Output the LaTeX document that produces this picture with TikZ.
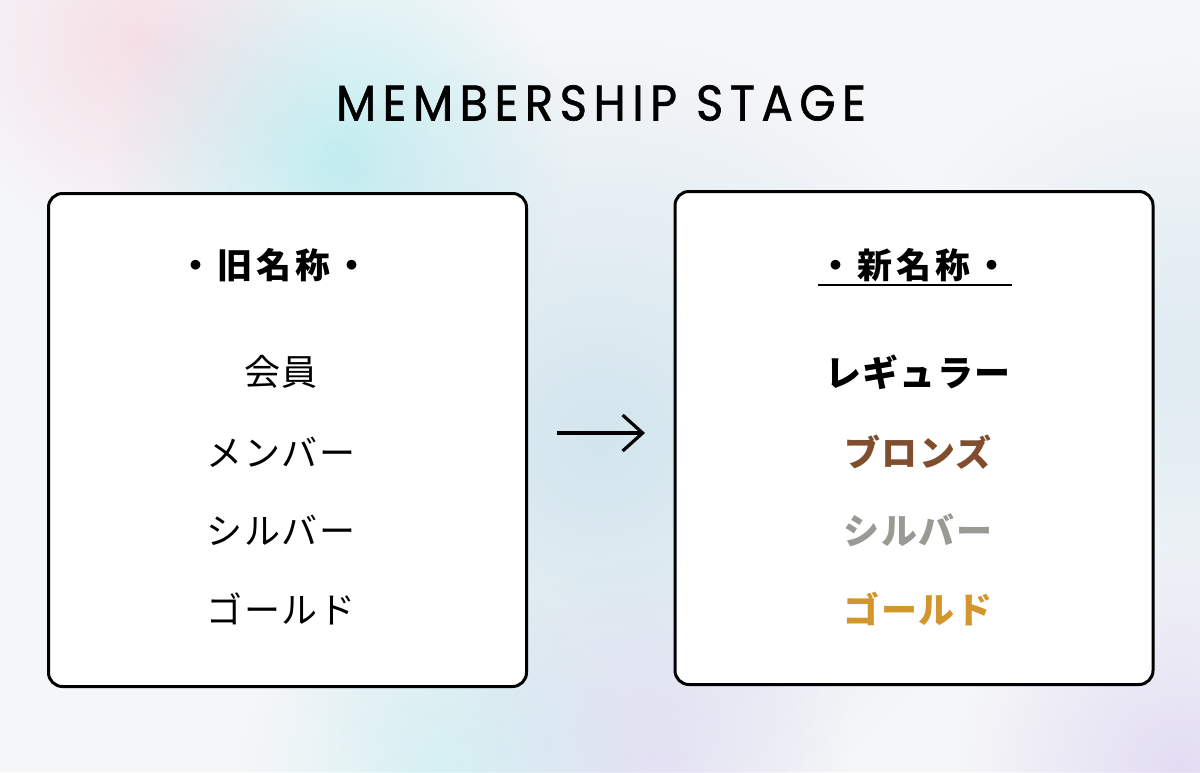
\documentclass[tikz,border=0pt]{standalone}
\usepackage{fontspec}
\setmainfont{Poppins}
\newfontfamily\titlefont[LetterSpace=14, FakeBold=1.2]{Poppins}
\newfontfamily\jp[LetterSpace=4]{Noto Sans CJK JP}
\newfontfamily\jphead[LetterSpace=12]{Noto Sans CJK JP}
\usepackage{tikz}
\usetikzlibrary{positioning,arrows.meta,fadings}
\definecolor{bgcol}{RGB}{245,246,248}
\definecolor{bronze}{RGB}{128,78,46}
\definecolor{silver}{RGB}{155,153,148}
\definecolor{gold}{RGB}{211,150,44}
\definecolor{aqua}{RGB}{160,232,236}
\definecolor{mist}{RGB}{196,222,234}
\definecolor{rose}{RGB}{246,200,214}
\definecolor{lilac}{RGB}{214,204,240}
\tikzfading[name=softblob, inner color=transparent!0, outer color=transparent!100]
\tikzstyle{stagebox} = [draw=black, fill=white, line width=1.5pt, rounded corners=7pt, minimum width=239pt, minimum height=246.5pt]
\tikzstyle{head} = [font=\jphead\bfseries\fontsize{17.5}{20}\selectfont, text=black]
\tikzstyle{olditem} = [font=\jp\fontsize{18}{21}\selectfont, text=black]
\tikzstyle{newitem} = [font=\jp\bfseries\fontsize{18}{21}\selectfont]
\tikzstyle{blob} = [path fading=softblob, draw=none]
\tikzstyle{arrow} = [line width=1.6pt, -{Straight Barb[length=10pt, width=18pt, line width=1.6pt]}]

\begin{document}
\begin{tikzpicture}[x=0.5pt, y=-0.5pt]
        % background
        \fill[bgcol] (0,0) rectangle (1200,772);
        \useasboundingbox (0,0) rectangle (1200,772);
        \fill[blob, rose, fill opacity=0.5] (140,40) circle (200);
        \fill[blob, aqua, fill opacity=0.6] (340,160) circle (230);
        \fill[blob, mist, fill opacity=0.7] (600,440) circle (400);
        \fill[blob, mist, fill opacity=0.45] (1180,360) circle (300);
        \fill[blob, lilac, fill opacity=0.6] (1180,770) circle (220);
        \fill[blob, lilac, fill opacity=0.45] (650,760) circle (200);
        \fill[blob, aqua, fill opacity=0.35] (440,780) circle (200);
        % title
        \node[font=\titlefont\fontsize{25}{30}\selectfont, xscale=0.93] (title) at (601,103) {MEMBERSHIP STAGE};
        % boxes
        \node[stagebox] (old) at (287.5,440) {};
        \node[stagebox] (new) at (914,438) {};
        % old names
        \node[head] (oldhead) at (274,265) {・旧名称・};
        \node[olditem] (o1) at (281,372) {会員};
        \node[olditem] (o2) at (281,452) {メンバー};
        \node[olditem] (o3) at (281,530) {シルバー};
        \node[olditem] (o4) at (281,609) {ゴールド};
        % new names
        \node[head] (newhead) at (914,265) {・新名称・};
        \draw[line width=0.8pt] (818,285) -- (1012,285);
        \node[newitem] (n1) at (918,372) {レギュラー};
        \node[newitem, text=bronze] (n2) at (918,452) {ブロンズ};
        \node[newitem, text=silver] (n3) at (918,530) {シルバー};
        \node[newitem, text=gold] (n4) at (918,609) {ゴールド};
        % arrow
        \coordinate (a1) at (557,433);
        \coordinate (a2) at (645,433);
        \draw[arrow] (a1) -- (a2);
\end{tikzpicture}
\end{document}
